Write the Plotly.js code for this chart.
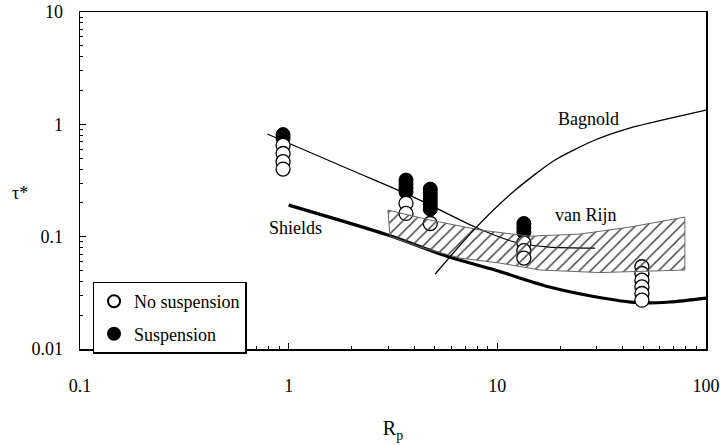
<!DOCTYPE html>
<html>
<head>
<meta charset="utf-8">
<script src="https://cdn.plot.ly/plotly-3.0.1.min.js"></script>
<style>
  html, body { margin: 0; padding: 0; background: #fff; }
  #chart { width: 720px; height: 445px; }
</style>
</head>
<body>
<div id="chart"></div>
<script>
// Particle Reynolds number of each experimental run group
const runRp = [0.94, 3.65, 4.77, 13.4, 49.3];

// Dimensionless shear stress, one list per run group
const noSuspensionTau = [
  [0.65, 0.55, 0.465, 0.40],
  [0.198, 0.161],
  [0.131],
  [0.088, 0.075, 0.0645],
  [0.054, 0.047, 0.041, 0.0357, 0.0312, 0.0272]
];
const suspensionTau = [
  [0.81, 0.755],
  [0.319, 0.294, 0.271, 0.25],
  [0.265, 0.245, 0.225, 0.208, 0.191, 0.176],
  [0.131, 0.12, 0.11],
  []
];

// Shields curve (threshold of motion)
const shieldsRp  = [1.0, 3.01, 5.84, 9.73, 17.6, 29.4, 47.5, 67.1, 100];
const shieldsTau = [0.191, 0.103, 0.0662, 0.0505, 0.0358, 0.0292, 0.0258, 0.0262, 0.0284];

// Bagnold suspension criterion
const bagnoldRp  = [5.04, 7.84, 12.2, 18.9, 29.4, 42.6, 61.5, 100];
const bagnoldTau = [0.0465, 0.1186, 0.26, 0.481, 0.725, 0.921, 1.09, 1.34];

// Thin suspension-onset line through the data
const onsetRp  = [0.79, 2.0, 3.61, 4.77, 7.81, 12.1, 17.7, 29.4];
const onsetTau = [0.82, 0.39, 0.244, 0.191, 0.122, 0.0896, 0.0807, 0.079];

// van Rijn band: upper edge left to right, lower edge right to left
const vanRijnUpperRp  = [2.99, 4.75, 8.25, 14.3, 24.9, 43.2, 79.2];
const vanRijnUpperTau = [0.1725, 0.1406, 0.1146, 0.101, 0.1055, 0.1218, 0.1494];
const vanRijnLowerRp  = [79.2, 31.0, 16.0, 10.3, 6.62, 4.26, 3.06, 2.99];
const vanRijnLowerTau = [0.0505, 0.0479, 0.0505, 0.0582, 0.0645, 0.0808, 0.101, 0.1725];

const seriesNames = ['No suspension', 'Suspension'];

function flatten(groups) {
  const xs = [], ys = [];
  groups.forEach((taus, i) => taus.forEach(t => { xs.push(runRp[i]); ys.push(t); }));
  return { xs, ys };
}
const open = flatten(noSuspensionTau);
const filled = flatten(suspensionTau);

const serif = 'Liberation Serif, Times New Roman, serif';

const traces = [
  {
    x: shieldsRp, y: shieldsTau, mode: 'lines', showlegend: false, hoverinfo: 'skip',
    line: { color: '#000', width: 3.2, shape: 'spline', smoothing: 0.8 }
  },
  {
    x: onsetRp, y: onsetTau, mode: 'lines', showlegend: false, hoverinfo: 'skip',
    line: { color: '#000', width: 1.2, shape: 'spline', smoothing: 0.6 }
  },
  {
    x: filled.xs, y: filled.ys, mode: 'markers', name: seriesNames[1],
    legendrank: 2, legendgroup: 'b',
    marker: { symbol: 'circle', size: 14, color: '#000', line: { color: '#000', width: 1 } }
  },
  {
    x: open.xs, y: open.ys, mode: 'markers', name: seriesNames[0],
    legendrank: 1, legendgroup: 'a',
    marker: { symbol: 'circle', size: 14, color: '#fff', line: { color: '#000', width: 1.3 } }
  },
  {
    x: vanRijnUpperRp.concat(vanRijnLowerRp),
    y: vanRijnUpperTau.concat(vanRijnLowerTau),
    mode: 'lines', fill: 'toself', showlegend: false, hoverinfo: 'skip',
    fillcolor: 'rgba(0,0,0,0)',
    fillpattern: { shape: '/', fgcolor: '#3a3a3a', bgcolor: 'rgba(0,0,0,0)', size: 8, solidity: 0.18 },
    line: { color: '#666', width: 1 }
  },
  {
    x: bagnoldRp, y: bagnoldTau, mode: 'lines', showlegend: false, hoverinfo: 'skip',
    line: { color: '#000', width: 1.3, shape: 'spline', smoothing: 0.7 }
  }
];

const axisCommon = {
  type: 'log', dtick: 1,
  showline: true, linecolor: '#000', linewidth: 1.5, mirror: true,
  showgrid: false, zeroline: false,
  ticks: 'inside', ticklen: 6, tickwidth: 1, tickcolor: '#000',
  minor: { ticks: 'inside', ticklen: 3, tickwidth: 1, tickcolor: '#000', dtick: 'D1', showgrid: false },
  tickfont: { family: serif, size: 18, color: '#000' }
};

const layout = {
  width: 720, height: 445,
  margin: { l: 80, r: 14, t: 12, b: 96 },
  paper_bgcolor: '#fff', plot_bgcolor: '#fff',
  showlegend: true,
  xaxis: Object.assign({}, axisCommon, {
    range: [-1, 2],
    ticklabelstandoff: 20,
    title: { text: 'R<sub>p</sub>', font: { family: serif, size: 20, color: '#000' }, standoff: 26 }
  }),
  yaxis: Object.assign({}, axisCommon, {
    range: [-2, 1],
    ticklabelstandoff: 12
  }),
  legend: {
    x: 0.02, y: 0.2, xanchor: 'left', yanchor: 'top',
    bgcolor: '#fff', bordercolor: '#000', borderwidth: 1.5,
    font: { family: serif, size: 18, color: '#000' },
    traceorder: 'grouped', tracegroupgap: 6,
    entrywidth: 135, itemsizing: 'constant'
  },
  annotations: [
    { xref: 'paper', yref: 'paper', x: 0.864, y: 0.718, text: 'Bagnold', showarrow: false,
      font: { family: serif, size: 18, color: '#000' } },
    { xref: 'paper', yref: 'paper', x: 0.861, y: 0.398, text: 'van Rijn', showarrow: false,
      font: { family: serif, size: 18, color: '#000' } },
    { xref: 'paper', yref: 'paper', x: 0.345, y: 0.323, text: 'Shields', showarrow: false,
      font: { family: serif, size: 18, color: '#000' } },
    { xref: 'paper', yref: 'paper', x: -0.112, y: 0.463, text: 'τ*', showarrow: false,
      font: { family: serif, size: 18, color: '#000' } }
  ]
};

Plotly.newPlot('chart', traces, layout, { displayModeBar: false, staticPlot: true });
</script>
</body>
</html>
